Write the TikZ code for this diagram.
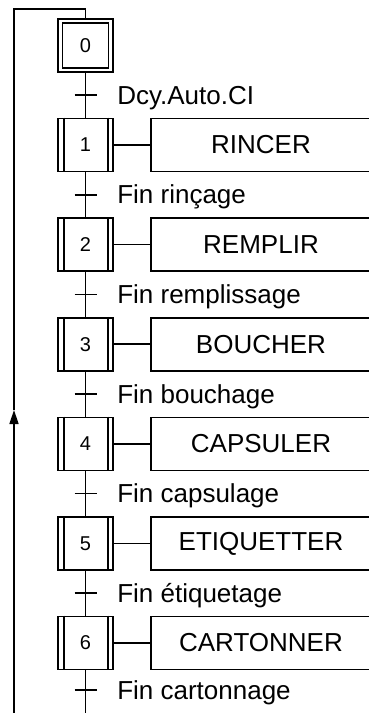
\documentclass[tikz,border=0pt]{standalone}
\usepackage{fontspec}
\setmainfont{Liberation Sans}
\usetikzlibrary{arrows.meta}
\begin{document}
\begin{tikzpicture}[x=1pt,y=-1pt,line width=1.6pt,
  stepbox/.style={draw,minimum width=55pt,minimum height=53pt,inner sep=0pt,font=\fontsize{20}{24}\selectfont},
  innerbox/.style={draw,minimum width=46pt,minimum height=45pt,inner sep=0pt},
  actbox/.style={draw,minimum width=220pt,minimum height=53pt,inner sep=0pt,font=\fontsize{26}{30}\selectfont},
  trlabel/.style={anchor=base west,inner sep=0pt,font=\fontsize{26}{30}\selectfont},
  crossbar/.style={line width=1.6pt}]
\clip (0,0) rectangle (369,713);
% initial step
\node[stepbox] (s0) at (85.5,45.5) {0};
\node[innerbox] (s0i) at (85.5,45.5) {};
% steps and actions
\foreach \k/\act in {1/RINCER,2/REMPLIR,3/BOUCHER,4/CAPSULER,5/ETIQUETTER,6/CARTONNER}{
  \pgfmathsetmacro{\yy}{145+99.6*(\k-1)}
  \node[stepbox] (s\k) at (85.5,\yy) {\k};
  \draw ([xshift=7pt]s\k.north west) -- ([xshift=7pt]s\k.south west);
  \draw ([xshift=-6pt]s\k.north east) -- ([xshift=-6pt]s\k.south east);
  \node[actbox] (a\k) at (261,\yy) {\act};
  \draw (s\k) -- (a\k);
}
% links between steps
\draw (s0) -- (s1);
\draw (s1) -- (s2);
\draw (s2) -- (s3);
\draw (s3) -- (s4);
\draw (s4) -- (s5);
\draw (s5) -- (s6);
\coordinate (bot) at (85.5,716);
\draw (s6) -- (bot);
% transitions
\foreach \k/\lab/\ty in {1/Dcy.Auto.CI/95.2,2/Fin rinçage/194.8,3/Fin remplissage/294.4,4/Fin bouchage/394,5/Fin capsulage/493.6,6/Fin étiquetage/593.2,7/Fin cartonnage/690}{
  \coordinate (t\k) at (85.5,\ty);
  \draw[crossbar] ([xshift=-11pt]t\k) -- ([xshift=11pt]t\k);
  \node[trlabel] (l\k) at ([xshift=31pt,yshift=-9pt]t\k) {\lab};
}
% return loop
\coordinate (lb) at (14,716);
\coordinate (la) at (14,410);
\coordinate (tp) at (85.5,9);
\draw[-{Triangle[length=14pt,width=9pt]}] (lb) -- (la);
\draw (la) |- (tp) -- (s0.north);
\end{tikzpicture}
\end{document}
